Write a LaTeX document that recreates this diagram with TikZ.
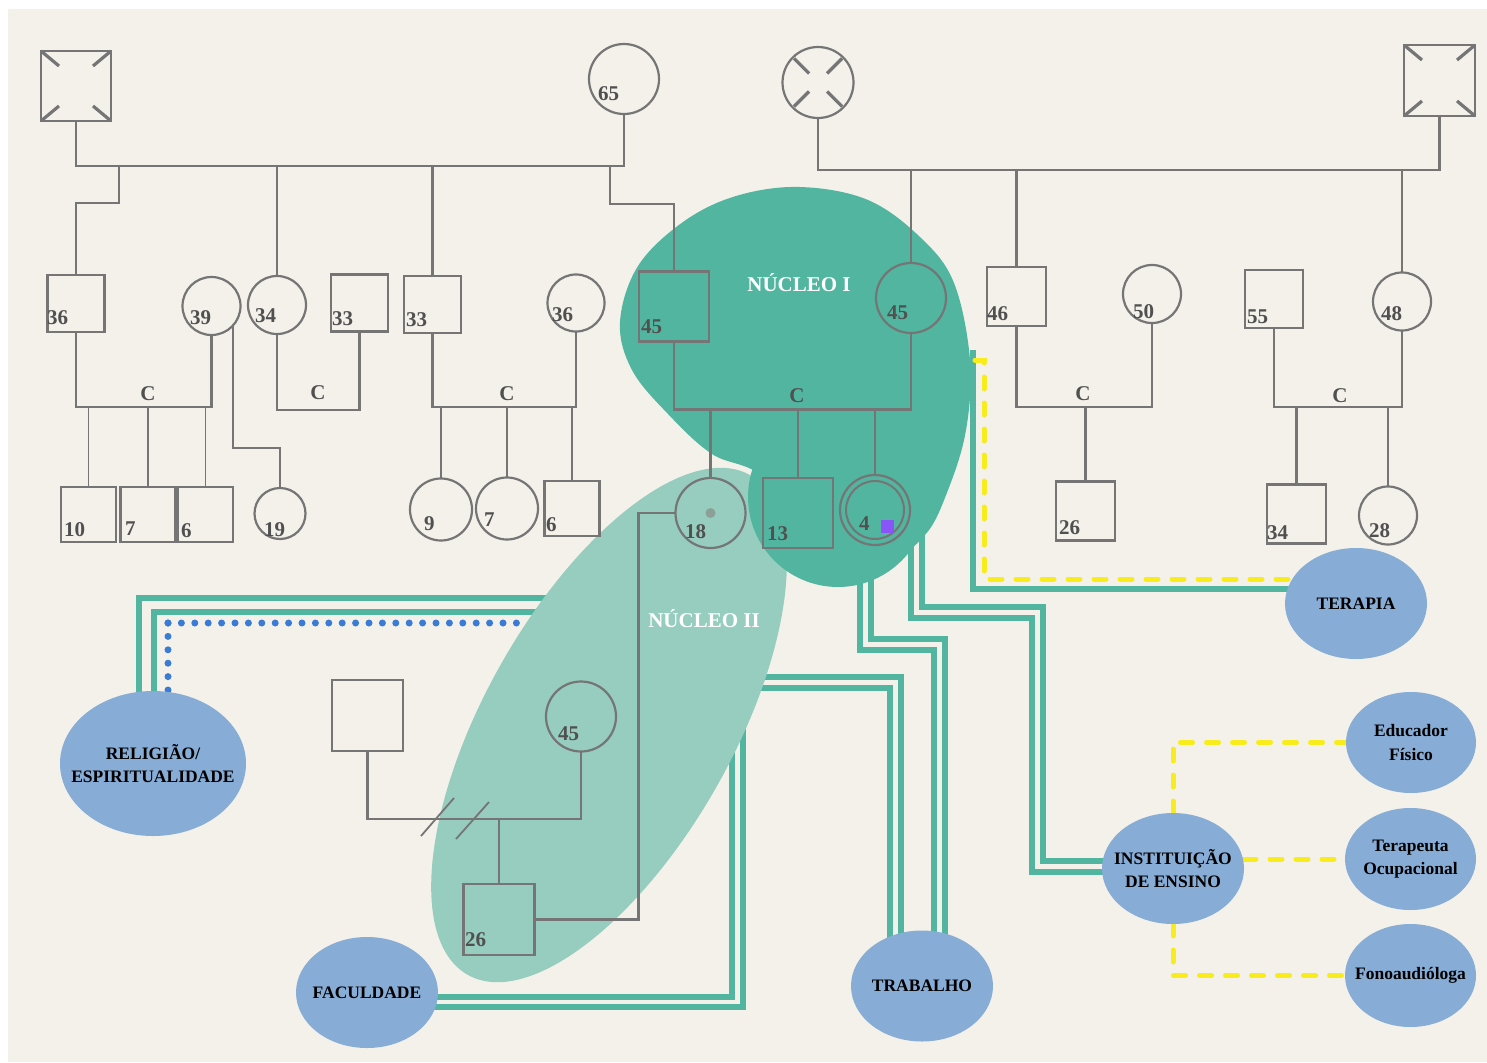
\documentclass[tikz,border=0pt]{standalone}
\usepackage{fontspec}
\setmainfont{Liberation Serif}
\usetikzlibrary{calc,shapes.geometric}

\definecolor{paper}{RGB}{243,241,234}
\definecolor{ink}{RGB}{117,117,117}
\definecolor{numc}{RGB}{80,80,80}
\definecolor{tealD}{RGB}{82,181,160}
\definecolor{tealL}{RGB}{150,205,190}
\definecolor{blueN}{RGB}{135,172,214}
\definecolor{dotB}{RGB}{58,123,213}
\definecolor{yel}{RGB}{248,236,28}
\definecolor{purp}{RGB}{138,85,248}
\definecolor{dotgray}{RGB}{140,160,152}

\newcommand\agefont{\fontsize{21}{25}\selectfont\bfseries}
\newcommand\placefont{\fontsize{17.5}{23.5}\selectfont\bfseries}

\pgfdeclarelayer{paperlayer}
\pgfdeclarelayer{linklayer}
\pgfdeclarelayer{bloblayer}
\pgfsetlayers{paperlayer,linklayer,bloblayer,main}

\tikzset{
  pline/.style={draw=ink, line width=2.6pt},
  thinline/.style={draw=ink, line width=1.8pt},
  male/.style={rectangle, draw=ink, line width=2.4pt, inner sep=0pt, outer sep=0pt,
               minimum width=#1, minimum height=#1},
  male/.default=57,
  female/.style={circle, draw=ink, line width=2.2pt, inner sep=0pt, outer sep=0pt,
                 minimum size=#1},
  female/.default=58,
  deadmark/.style={draw=ink, line width=3.2pt},
  age/.style={font=\agefont, text=numc, anchor=west, inner sep=0pt},
  cpl/.style={font=\agefont, text=numc, inner sep=0pt},
  coretext/.style={font=\agefont, text=white, inner sep=0pt},
  place/.style={ellipse, fill=blueN, inner sep=0pt, outer sep=0pt},
  placetext/.style={inner sep=0pt, align=center, font=\placefont, text=black},
  link/.style={draw=tealD, line width=6pt},
  yell/.style={draw=yel, line width=5pt, line cap=round, dash pattern=on 12pt off 14pt},
  dots/.style={draw=dotB, line width=7pt, line cap=round, dash pattern=on 0pt off 13.4pt},
}

\begin{document}
\begin{tikzpicture}[x=1pt,y=-1pt]
\useasboundingbox (0,0) rectangle (1487,1062);
\begin{pgfonlayer}{paperlayer}
  \fill[white] (0,0) rectangle (1487,1062);
  \fill[paper] (8,9) rectangle (1487,1062);
\end{pgfonlayer}

% ---------- generation I ----------
\node[male=70]   (dmL) at (76,86) {};
\node[female=70] (f65) at (624,79) {};
\node[female=71] (dfR) at (818,82.5) {};
\node[male=71]   (dmR) at (1439.5,80.5) {};

% ---------- generation II ----------
\node[male=57]   (m36)  at (76,303.5) {};
\node[female=58] (f39)  at (211.5,306) {};
\node[female=58] (f34)  at (277,305) {};
\node[male=57]   (m33a) at (359.5,303) {};
\node[male=57]   (m33b) at (432.5,304.5) {};
\node[female=57] (f36)  at (576,303) {};
\node[male=70]   (m45)  at (674,306.5) {};
\node[female=70] (f45)  at (911,298) {};
\node[male=59]   (m46)  at (1016.5,296.5) {};
\node[female=58] (f50)  at (1152,294) {};
\node[male=58]   (m55)  at (1274,299) {};
\node[female=58] (f48)  at (1402,301.5) {};

% ---------- generation III ----------
\node[male=55]   (k10) at (88.5,514.5) {};
\node[male=55]   (k7)  at (148,514.5) {};
\node[male=55]   (k6)  at (205.5,514.5) {};
\node[female=51] (f19) at (280,513.5) {};
\node[female=62] (f9)  at (441,509.5) {};
\node[female=62] (f7)  at (507,508.5) {};
\node[male=55]   (m6)  at (572,508.5) {};
\node[female=70] (f18) at (710.5,513) {};
\node[male=70]   (m13) at (798,513) {};
\node[female=70] (f4)  at (875,510) {};
\node[female=58, line width=2pt] (f4in) at (f4.center) {};
\node[male=59]   (m26) at (1085.5,511) {};
\node[male=59]   (m34) at (1296.5,514) {};
\node[female=58] (f28) at (1388,515.5) {};

% ---------- second household ----------
\node[male=71]   (mX)   at (367.5,715.5) {};
\node[female=70] (f45b) at (581,716.5) {};
\node[male=71]   (m26b) at (499,919.5) {};

% ---------- community resources ----------
\node[place, minimum width=142, minimum height=111] (ter)  at (1356,603.5) {};
\node[place, minimum width=130, minimum height=101] (edu)  at (1411,742.5) {};
\node[place, minimum width=131, minimum height=102] (tocu) at (1410.5,859) {};
\node[place, minimum width=131, minimum height=103] (fono) at (1410.5,975.5) {};
\node[place, minimum width=142, minimum height=111] (inst) at (1173,868.5) {};
\node[place, minimum width=142, minimum height=111] (trab) at (922,986) {};
\node[place, minimum width=142, minimum height=111] (fac)  at (367,992.5) {};
\node[place, minimum width=186, minimum height=145] (rel)  at (153,763.5) {};
\node[placetext] (terT)  at (ter.center)  {TERAPIA};
\node[placetext] (eduT)  at (edu.center)  {Educador\\Físico};
\node[placetext] (tocuT) at (tocu.center) {Terapeuta\\Ocupacional};
\node[placetext] (fonoT) at (fono.center) {Fonoaudióloga};
\node[placetext] (instT) at (inst.center) {INSTITUIÇÃO\\DE ENSINO};
\node[placetext] (trabT) at (trab.center) {TRABALHO};
\node[placetext] (facT)  at (fac.center)  {FACULDADE};
\node[placetext] (relT)  at (rel.center)  {RELIGIÃO/\\ESPIRITUALIDADE};

% ---------- ports on the two household areas ----------
\coordinate (nIIa) at (549,597.5);
\coordinate (nIIb) at (539,612);
\coordinate (nIIc) at (529,623);
\coordinate (dc)   at (168,623);
\coordinate (nIId) at (755,677);
\coordinate (nIIe) at (755,688);
\coordinate (nIIf) at (732,700);
\coordinate (nIIg) at (743,700);
\coordinate (nIa)  at (860,560);
\coordinate (nIb)  at (871,560);
\coordinate (nIc)  at (911,525);
\coordinate (nId)  at (922,515);
\coordinate (nIe)  at (973,350);
\coordinate (nIf)  at (975,360);

% ---------- links (under the household areas) ----------
\begin{pgfonlayer}{linklayer}
  % religion
  \draw[link] (rel.center) ++(-14,0) |- (nIIa);
  \draw[link] (rel.center) ++(0.5,0) |- (nIIb);
  \draw[dots] (dc) -- (nIIc);
  \draw[dots] (dc) -- ($(rel.center)+(15,0)$);
  % work
  \draw[link] (nIId) -| ($(trab.center)+(-21,0)$);
  \draw[link] (nIIe) -| ($(trab.center)+(-32,0)$);
  \draw[link] (nIa) -- ++(0,90) -| ($(trab.center)+(12,0)$);
  \draw[link] (nIb) -- ++(0,79) -| ($(trab.center)+(23,0)$);
  % school
  \draw[link] (nIc) -- ++(0,93) -- ++(121,0) |- ($(inst.center)+(0,3.5)$);
  \draw[link] (nId) -- ++(0,92) -- ++(121,0) |- ($(inst.center)+(0,-7.5)$);
  % therapy
  \draw[link] (nIe) |- ($(ter.center)+(0,-14.5)$);
  \draw[yell] (nIf) -- ++(9,0) |- ($(ter.center)+(0,-24.5)$);
  % college
  \draw[link] (nIIf) |- ($(fac.center)+(0,4.5)$);
  \draw[link] (nIIg) |- ($(fac.center)+(0,14.5)$);
  % school staff
  \draw[yell] (inst.north) |- (edu.west);
  \draw[yell] (tocu.west -| inst.east) -- (tocu.west);
  \draw[yell] (inst.south) |- (fono.west);
\end{pgfonlayer}

% ---------- household areas ----------
\begin{pgfonlayer}{bloblayer}
  \fill[tealL, rotate around={60.5:(609,725)}] (609,725) ellipse [x radius=287pt, y radius=124pt];
  \fill[tealD] plot[smooth cycle, tension=0.6] coordinates {
    (800,187) (868,200) (921,238) (954,283) (970,360) (966,430) (948,490)
    (925,535) (885,560) (830,530) (760,474) (712,454) (668,414) (632,370)
    (620,322) (638,266) (683,222) (736,196)};
  \fill[tealD] (838,497) circle [radius=90pt];
\end{pgfonlayer}
\node[coretext] (coreI)  at (799,283) {NÚCLEO I};
\node[coretext] (coreII) at (704,619) {NÚCLEO II};

% ---------- deceased marks ----------
\foreach \n in {dmL,dmR}{
  \draw[deadmark] (\n.north west) -- ++(18,15);
  \draw[deadmark] (\n.north east) -- ++(-18,15);
  \draw[deadmark] (\n.south west) -- ++(18,-15);
  \draw[deadmark] (\n.south east) -- ++(-18,-15);
}
\foreach \sx/\sy in {1/1,1/-1,-1/1,-1/-1}{
  \draw[deadmark] ($(dfR.center)+(\sx*24,\sy*24)$) -- ($(dfR.center)+(\sx*9,\sy*9)$);
}

% ---------- sibships and couples, left side ----------
\coordinate (bar1) at (0,166);
\coordinate (j1) at (119,166);
\coordinate (j2) at (610,166);
\draw[pline] (dmL.south) -- (dmL.south |- bar1) -| (f65.south);
\draw[pline] (j1) -- ++(0,37) -| (m36.north);
\draw[pline] (f34.north |- bar1) -- (f34.north);
\draw[pline] (m33b.north |- bar1) -- (m33b.north);
\draw[pline] (j2) -- ++(0,38) -| (m45.north);

\coordinate (mlA) at (0,407);
\draw[pline] (m36.south) -- ++(0,75) -| (f39.south);
\node[cpl] (cA) at (148,394) {C};
\foreach \k in {k10,k7,k6}{ \draw[thinline] (\k.north) -- (\k.north |- mlA); }
\draw[thinline] (f39.-42) -- ++(0,122.5) -| (f19.north);

\draw[pline] (f34.south) -- ++(0,76) -| (m33a.south);
\node[cpl] (cB) at (318,393) {C};

\coordinate (mlB) at (0,407);
\draw[pline] (m33b.south) -- ++(0,74) -| (f36.south);
\node[cpl] (cC) at (507,394) {C};
\foreach \k in {f9,f7,m6}{ \draw[thinline] (\k.north) -- (\k.north |- mlB); }

\coordinate (mlC) at (0,410);
\draw[pline] (m45.south) -- ++(0,68) -| (f45.south);
\node[cpl] (cD) at (797,396) {C};
\foreach \k in {f18,m13,f4}{ \draw[pline] (\k.north) -- (\k.north |- mlC); }

% ---------- sibships and couples, right side ----------
\coordinate (bar2) at (0,170);
\draw[pline] (dfR.south) -- (dfR.south |- bar2) -| (dmR.south);
\draw[pline] (f45.north |- bar2) -- (f45.north);
\draw[pline] (m46.north |- bar2) -- (m46.north);
\draw[pline] (f48.north |- bar2) -- (f48.north);

\coordinate (mlD) at (0,407);
\draw[pline] (m46.south) -- ++(0,81) -| (f50.south);
\node[cpl] (cE) at (1083,394) {C};
\draw[pline] (m26.north) -- (m26.north |- mlD);

\coordinate (mlE) at (0,407);
\draw[pline] (m55.south) -- ++(0,79) -| (f48.south);
\node[cpl] (cF) at (1340,396) {C};
\foreach \k in {m34,f28}{ \draw[pline] (\k.north) -- (\k.north |- mlE); }

% ---------- second household ----------
\coordinate (mlF) at (0,819);
\draw[pline] (mX.south) -- ++(0,68) -| (f45b.south);
\draw[pline] (m26b.north) -- (m26b.north |- mlF);
\draw[thinline] (421,836) -- (454,798);
\draw[thinline] (456,839) -- (489,802);
\draw[pline] (f18.west) -- ++(-37,0) |- (m26b.east);

% ---------- marks inside symbols ----------
\fill[dotgray] (f18.center) circle [radius=5pt];
\node[fill=purp, minimum size=13, inner sep=0pt] (idx) at (887.5,526) {};

% ---------- ages ----------
\node[age] (a65)  at (598,94)  {65};
\node[age] (a36)  at (47,318)  {36};
\node[age] (a39)  at (190,318) {39};
\node[age] (a34)  at (255,316) {34};
\node[age] (a33a) at (332,319) {33};
\node[age] (a33b) at (406,320) {33};
\node[age] (a36b) at (552,315) {36};
\node[age] (a45)  at (641,327) {45};
\node[age] (a45f) at (887,313) {45};
\node[age] (a46)  at (987,314) {46};
\node[age] (a50)  at (1133,312) {50};
\node[age] (a55)  at (1247,317) {55};
\node[age] (a48)  at (1381,314) {48};
\node[age] (a10)  at (64,530)  {10};
\node[age] (a7)   at (125,529) {7};
\node[age] (a6)   at (181,531) {6};
\node[age] (a19)  at (264,530) {19};
\node[age] (a9)   at (424,524) {9};
\node[age] (a7f)  at (484,520) {7};
\node[age] (a6m)  at (546,525) {6};
\node[age] (a18)  at (685,532) {18};
\node[age] (a13)  at (767,534) {13};
\node[age] (a4)   at (859,524) {4};
\node[age] (a26)  at (1059,528) {26};
\node[age] (a34m) at (1267,533) {34};
\node[age] (a28)  at (1369,531) {28};
\node[age] (a45b) at (558,734) {45};
\node[age] (a26b) at (465,940) {26};
\end{tikzpicture}
\end{document}
